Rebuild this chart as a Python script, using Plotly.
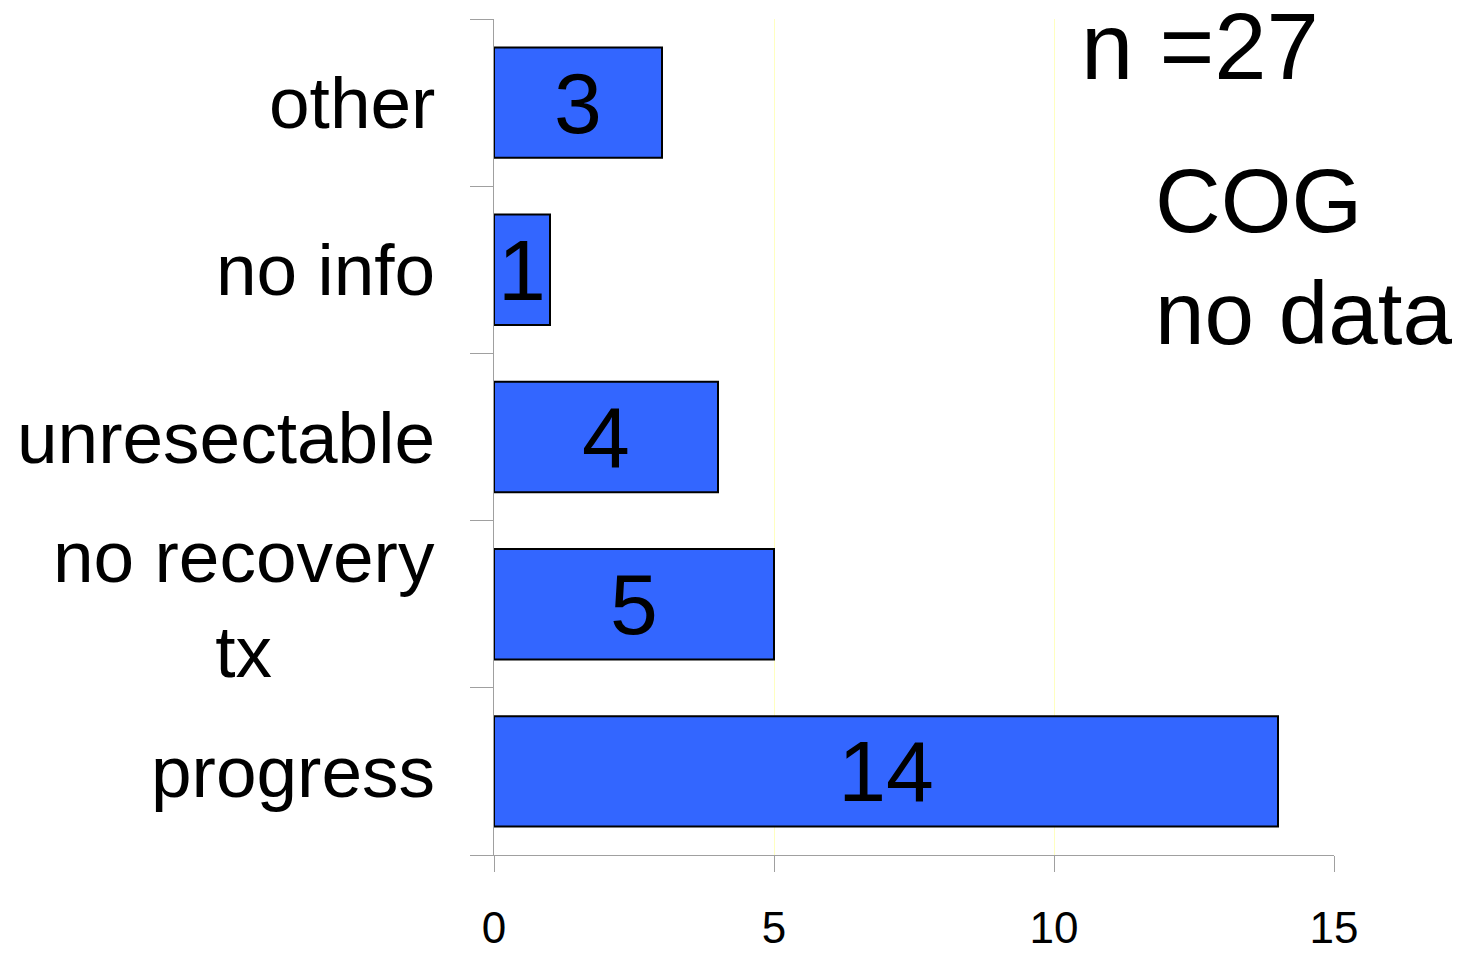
import plotly.graph_objects as go

# Reasons, listed bottom to top
categories = ["progress", "no recovery<br>tx", "unresectable", "no info", "other"]
counts = [14, 5, 4, 1, 3]
x_ticks = [0, 5, 10, 15]

W, H = 1461, 954
M_LEFT, M_RIGHT, M_TOP, M_BOTTOM = 494, 127, 19, 99
PLOT_W = W - M_LEFT - M_RIGHT
PLOT_H = H - M_TOP - M_BOTTOM
FONT = "Liberation Sans, Arial, sans-serif"


def px_x(px):
    return (px - M_LEFT) / PLOT_W


def px_y(py):
    return 1 - (py - M_TOP) / PLOT_H


fig = go.Figure()
fig.add_trace(go.Bar(
    x=counts,
    y=categories,
    orientation="h",
    marker=dict(color="#3366ff", line=dict(color="black", width=2)),
    text=[str(c) for c in counts],
    textposition="inside",
    insidetextanchor="middle",
    textangle=0,
    constraintext="none",
    textfont=dict(family=FONT, size=86, color="black"),
    hoverinfo="skip",
))

# Category labels, centred line by line and right-aligned to the axis
annotations = []
for cat in categories:
    annotations.append(dict(
        text=cat, xref="paper", yref="y", x=px_x(437), y=cat,
        xanchor="right", yanchor="middle", align="center", showarrow=False,
        font=dict(family=FONT, size=73, color="black"),
    ))

annotations.append(dict(
    text="n =27", xref="paper", yref="paper", x=px_x(1079), y=px_y(46),
    xanchor="left", yanchor="middle", align="left", showarrow=False,
    font=dict(family=FONT, size=94, color="black"),
))
annotations.append(dict(
    text="COG", xref="paper", yref="paper", x=px_x(1153), y=px_y(201),
    xanchor="left", yanchor="middle", align="left", showarrow=False,
    font=dict(family=FONT, size=91, color="black"),
))
annotations.append(dict(
    text="no data", xref="paper", yref="paper", x=px_x(1153), y=px_y(313),
    xanchor="left", yanchor="middle", align="left", showarrow=False,
    font=dict(family=FONT, size=89, color="black"),
))

fig.update_layout(
    width=W, height=H,
    margin=dict(l=M_LEFT, r=M_RIGHT, t=M_TOP, b=M_BOTTOM, pad=0, autoexpand=False),
    paper_bgcolor="white", plot_bgcolor="white",
    bargap=0.34,
    showlegend=False,
    annotations=annotations,
    xaxis=dict(
        range=[0, 15], tickvals=x_ticks, ticktext=[str(v) for v in x_ticks],
        showgrid=True, gridcolor="#ffffc0", gridwidth=1, zeroline=False,
        showline=True, linecolor="#a0a0a0", linewidth=1,
        ticks="outside", ticklen=16, tickcolor="#a0a0a0", tickwidth=1,
        tickfont=dict(family=FONT, size=44, color="black"),
        ticklabelstandoff=18,
        automargin=False,
        fixedrange=True,
    ),
    yaxis=dict(
        type="category", categoryorder="array", categoryarray=categories,
        range=[-0.5, len(categories) - 0.5],
        showgrid=False, zeroline=False, showticklabels=False,
        showline=True, linecolor="#a0a0a0", linewidth=1,
        ticks="outside", tickson="boundaries", ticklen=23,
        tickcolor="#a0a0a0", tickwidth=1,
        automargin=False,
        fixedrange=True,
    ),
)

fig.write_html("out.html")
